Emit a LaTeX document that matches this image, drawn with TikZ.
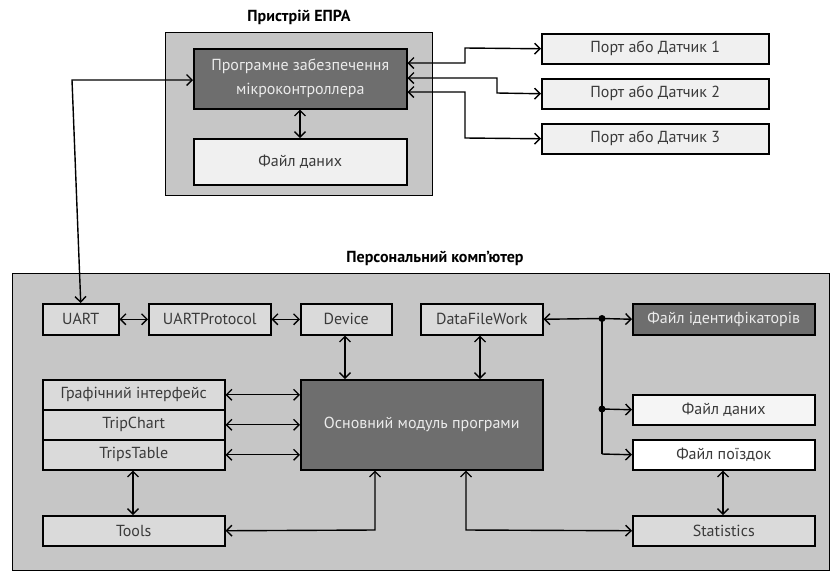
\documentclass[tikz,border=0pt]{standalone}
\usepackage{fontspec}
\setmainfont{PT Sans}
\usetikzlibrary{arrows.meta}
\definecolor{outerfill}{HTML}{C6C6C6}
\definecolor{darkfill}{HTML}{6E6E6E}
\definecolor{lightfill}{HTML}{DADADA}
\definecolor{palefill}{HTML}{F0F0F0}
\definecolor{txt}{HTML}{3A3A3A}
\tikzset{
  outerbox/.style={draw=black, line width=1.3pt, fill=outerfill},
  modbox/.style={draw=black, line width=1.5pt, fill=lightfill, text=txt, font=\fontsize{16}{18}\selectfont, inner sep=0pt},
  darkbox/.style={modbox, fill=darkfill, text=white!92!black},
  palebox/.style={modbox, fill=palefill},
  whitebox/.style={modbox, fill=white},
  conn/.style={line width=1.4pt, {Straight Barb[length=5.5pt,width=11pt]}-{Straight Barb[length=5.5pt,width=11pt]}},
  connr/.style={line width=1.4pt, -{Straight Barb[length=5.5pt,width=11pt]}},
  plain/.style={line width=1.4pt},
  title/.style={font=\bfseries\fontsize{16}{18}\selectfont, text=black},
  jdot/.style={circle, fill=black, inner sep=0pt, minimum size=7pt}
}
\begin{document}
\begin{tikzpicture}[x=1pt,y=-1pt]
\useasboundingbox (0,0) rectangle (831,574);
% ---------- device ----------
\node[title] (tdev) at (299,17) {Пристрій ЕПРА};
\node[outerbox, minimum width=267pt, minimum height=163pt, anchor=north west] (dev) at (165,32) {};
\node[darkbox, minimum width=213pt, minimum height=60pt, anchor=north west, align=center, font=\fontsize{16}{24}\selectfont] (prog) at (193,48) {Програмне забезпечення\\мікроконтроллера};
\node[palebox, minimum width=213pt, minimum height=46pt, anchor=north west] (dfile) at (193,138) {Файл даних};
\draw[conn] (prog.south -| 300,0) -- (dfile.north -| 300,0);
% ports
\node[palebox, minimum width=227pt, minimum height=30pt, anchor=north west] (p1) at (541,33) {Порт або Датчик 1};
\node[palebox, minimum width=227pt, minimum height=30pt, anchor=north west] (p2) at (541,78) {Порт або Датчик 2};
\node[palebox, minimum width=227pt, minimum height=30pt, anchor=north west] (p3) at (541,123) {Порт або Датчик 3};
\draw[conn] (prog.east |- 0,63) -- (465,63) -- (465,48) -- (p1.west);
\draw[conn] (prog.east |- 0,78) -- (497,78) -- (497,93) -- (p2.west);
\draw[conn] (prog.east |- 0,92) -- (465,92) -- (465,138) -- (p3.west);
% ---------- PC ----------
\node[title] (tpc) at (435,258) {Персональний комп'ютер};
\node[outerbox, minimum width=817pt, minimum height=297pt, anchor=north west] (pc) at (12,273) {};
\node[modbox, minimum width=76pt, minimum height=31pt, anchor=north west] (uart) at (42,303) {UART};
\node[modbox, minimum width=122pt, minimum height=31pt, anchor=north west] (uproto) at (148,303) {UARTProtocol};
\node[modbox, minimum width=91pt, minimum height=31pt, anchor=north west] (device) at (300,303) {Device};
\node[modbox, minimum width=122pt, minimum height=31pt, anchor=north west] (dfw) at (420,303) {DataFileWork};
\node[darkbox, minimum width=182pt, minimum height=31pt, anchor=north west] (fid) at (632,303) {Файл ідентифікаторів};
\node[modbox, minimum width=182pt, minimum height=30pt, anchor=north west] (gui) at (42,379) {Графічний інтерфейс};
\node[modbox, minimum width=182pt, minimum height=30pt, anchor=north west] (tchart) at (42,409) {TripChart};
\node[modbox, minimum width=182pt, minimum height=30pt, anchor=north west] (ttable) at (42,439) {TripsTable};
\node[darkbox, minimum width=242pt, minimum height=90pt, anchor=north west] (main) at (300,379) {Основний модуль програми};
\node[palebox, fill=white!96!black, minimum width=182pt, minimum height=30pt, anchor=north west] (pfile) at (632,394) {Файл даних};
\node[whitebox, minimum width=182pt, minimum height=30pt, anchor=north west] (trips) at (632,439) {Файл поїздок};
\node[modbox, minimum width=182pt, minimum height=30pt, anchor=north west] (tools) at (42,515) {Tools};
\node[modbox, minimum width=182pt, minimum height=30pt, anchor=north west] (stats) at (632,515) {Statistics};
% connectors
\draw[conn] (uart.north) -- (72,80) -- (prog.west |- 0,80);
\draw[conn] (uart.east) -- (uproto.west);
\draw[conn] (uproto.east) -- (device.west);
\draw[conn] (device.south -| 345,0) -- (main.north -| 345,0);
\draw[conn] (dfw.south -| 480,0) -- (main.north -| 480,0);
\node[jdot] (j1) at (602,318.5) {};
\node[jdot] (j2) at (602,409) {};
\coordinate (j3) at (602,454);
\draw[line width=1.4pt, {Straight Barb[length=5.5pt,width=11pt]}-] (dfw.east) -- (j1.center);
\draw[connr] (j1.center) -- (fid.west);
\draw[plain] (j1.center) -- (j2.center) -- (j3);
\draw[connr] (j2.center) -- (pfile.west);
\draw[connr] (j3) -- (trips.west);
\draw[conn] (gui.east) -- (main.west |- gui.east);
\draw[conn] (tchart.east) -- (main.west |- tchart.east);
\draw[conn] (ttable.east) -- (main.west |- ttable.east);
\draw[conn] (ttable.south -| 133,0) -- (tools.north -| 133,0);
\draw[conn] (tools.east) -- (375,530) -- (main.south -| 375,0);
\draw[conn] (main.south -| 466,0) -- (466,530) -- (stats.west);
\draw[conn] (trips.south -| 723,0) -- (stats.north -| 723,0);
\end{tikzpicture}
\end{document}
